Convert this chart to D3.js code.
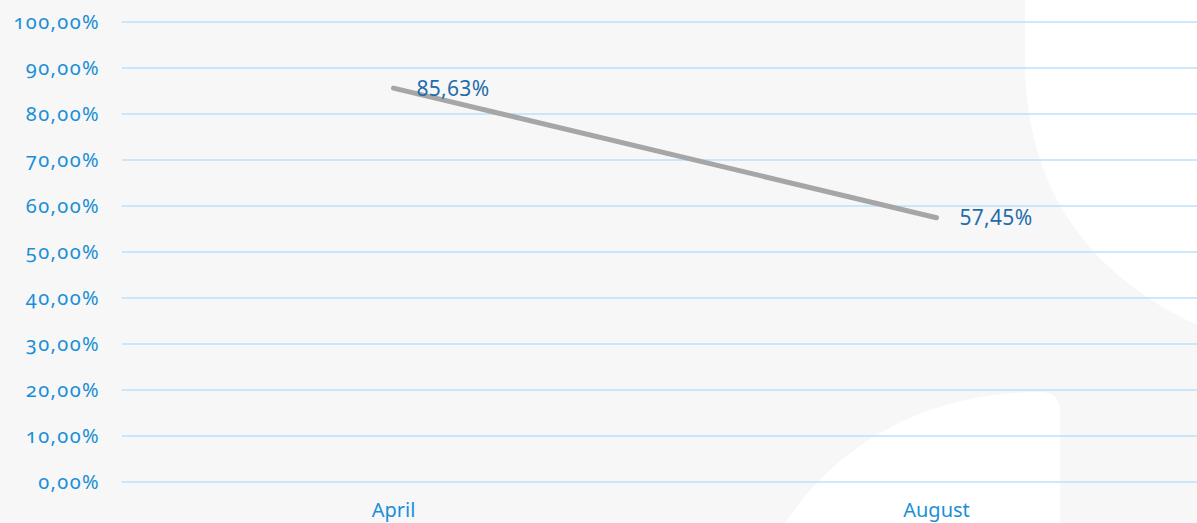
<!DOCTYPE html>
<html>
<head>
<meta charset="utf-8">
<script src="https://cdn.jsdelivr.net/npm/d3@7"></script>
<style>
  html, body { margin: 0; padding: 0; background: #f7f7f7; overflow: hidden; }
  svg { display: block; }
</style>
</head>
<body>
<script>
// data
const months = ["April", "August"]
const rates = [85.63, 57.45]
const yTicks = [0, 10, 20, 30, 40, 50, 60, 70, 80, 90, 100]

const width = 1197
const height = 523

const svg = d3.select("body").append("svg")
    .attr("width", width)
    .attr("height", height)

// background decoration (white shapes on grey)
svg.append("rect").attr("width", width).attr("height", height).attr("fill", "#f7f7f7")
svg.append("path")
    .attr("d", "M1025,0 L1025,60 C1025,200 1100,280 1197,325 L1197,0 Z")
    .attr("fill", "#ffffff")
svg.append("path")
    .attr("d", "M785,523 C840,440 930,392 1040,392 Q1060,392 1060,412 L1060,523 Z")
    .attr("fill", "#ffffff")

const x = d3.scaleBand()
    .domain(months)
    .range([122, 1208])

const y = d3.scaleLinear()
    .domain([0, 100])
    .range([482, 22])

const fmt = v => d3.format(".2f")(v).replace(".", ",") + "%"

// gridlines
svg.append("g")
    .selectAll("line")
    .data(yTicks)
    .join("line")
    .attr("x1", 122)
    .attr("x2", width)
    .attr("y1", d => y(d))
    .attr("y2", d => y(d))
    .attr("stroke", "#b8e2fb")
    .attr("stroke-width", 1.6)

// y axis labels
const yAxis = svg.append("g")
    .attr("transform", "translate(100,0)")
    .call(d3.axisLeft(y).tickValues(yTicks).tickFormat(fmt).tickSize(0).tickPadding(0))
yAxis.select(".domain").remove()
yAxis.selectAll("text")
    .attr("fill", "#1a8fd8")
    .attr("font-family", "'Noto Sans', sans-serif")
    .attr("font-size", 20)
    .attr("letter-spacing", 1.4)
    .style("font-variant-numeric", "oldstyle-nums")

// x axis labels
const xAxis = svg.append("g")
    .attr("transform", "translate(0,498)")
    .call(d3.axisBottom(x).tickSize(0).tickPadding(0))
xAxis.select(".domain").remove()
xAxis.selectAll("text")
    .attr("fill", "#1a8fd8")
    .attr("font-family", "'Noto Sans', sans-serif")
    .attr("font-size", 20)
    .attr("dy", "0.95em")

const pts = months.map((m, i) => [x(m) + x.bandwidth() / 2, y(rates[i])])

svg.append("path")
    .attr("d", d3.line()(pts))
    .attr("fill", "none")
    .attr("stroke", "#a6a6a6")
    .attr("stroke-width", 5)
    .attr("stroke-linecap", "round")

svg.append("g")
    .selectAll("text")
    .data(rates)
    .join("text")
    .attr("x", (d, i) => pts[i][0] + 23)
    .attr("y", (d, i) => pts[i][1] + 2)
    .attr("dominant-baseline", "middle")
    .attr("fill", "#1f6dab")
    .attr("font-family", "'Noto Sans', sans-serif")
    .attr("font-size", 21)
    .attr("letter-spacing", 0.3)
    .text(d => fmt(d))
</script>
</body>
</html>
